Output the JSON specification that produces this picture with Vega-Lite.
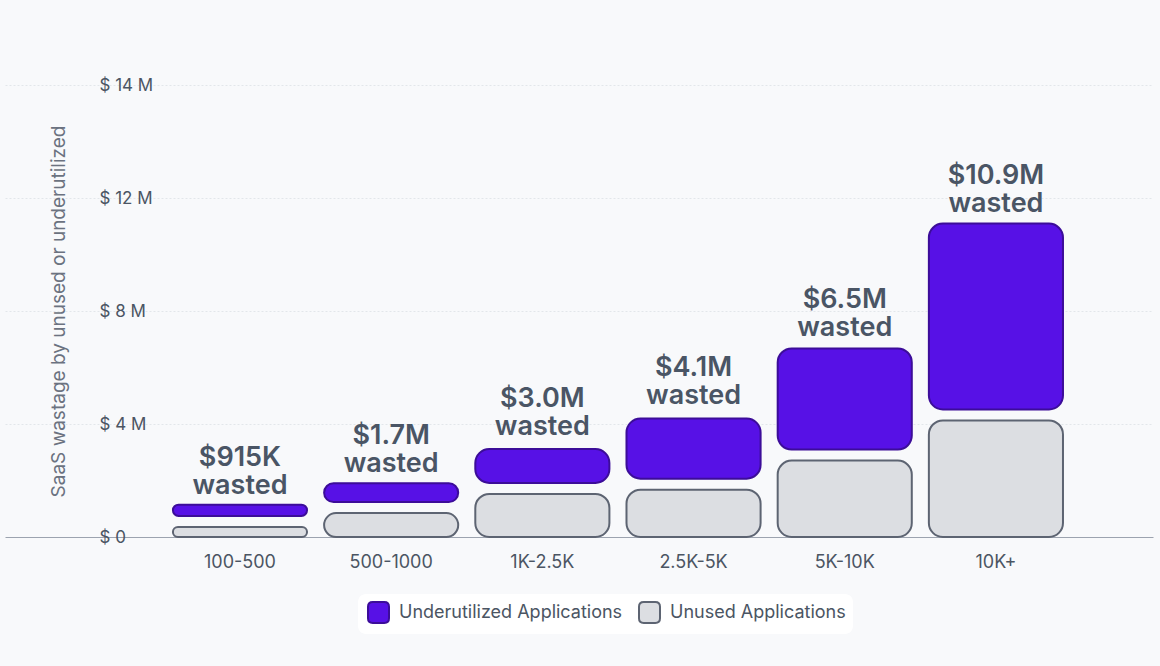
{
  "$schema": "https://vega.github.io/schema/vega-lite/v6.json",
  "description": "SaaS wastage by company size, unused vs underutilized applications.",
  "width": 1148,
  "height": 452,
  "autosize": {"type": "none"},
  "padding": {"left": 5, "top": 85, "right": 7, "bottom": 129},
  "background": "#f8f9fb",
  "datasets": {
    "segments": [
      {"group": "100-500", "segment": "Unused Applications", "value": 0.55},
      {"group": "100-500", "segment": "Underutilized Applications", "value": 0.40},
      {"group": "500-1000", "segment": "Unused Applications", "value": 1.04},
      {"group": "500-1000", "segment": "Underutilized Applications", "value": 0.67},
      {"group": "1K-2.5K", "segment": "Unused Applications", "value": 1.72},
      {"group": "1K-2.5K", "segment": "Underutilized Applications", "value": 1.20},
      {"group": "2.5K-5K", "segment": "Unused Applications", "value": 1.87},
      {"group": "2.5K-5K", "segment": "Underutilized Applications", "value": 2.13},
      {"group": "5K-10K", "segment": "Unused Applications", "value": 2.90},
      {"group": "5K-10K", "segment": "Underutilized Applications", "value": 3.58},
      {"group": "10K+", "segment": "Unused Applications", "value": 4.32},
      {"group": "10K+", "segment": "Underutilized Applications", "value": 6.58}
    ],
    "totals": [
      {"group": "100-500", "total": 0.915, "label": "$915K\nwasted"},
      {"group": "500-1000", "total": 1.7, "label": "$1.7M\nwasted"},
      {"group": "1K-2.5K", "total": 3.0, "label": "$3.0M\nwasted"},
      {"group": "2.5K-5K", "total": 4.1, "label": "$4.1M\nwasted"},
      {"group": "5K-10K", "total": 6.5, "label": "$6.5M\nwasted"},
      {"group": "10K+", "total": 10.9, "label": "$10.9M\nwasted"}
    ]
  },
  "encoding": {
    "x": {
      "field": "group",
      "type": "nominal",
      "sort": ["100-500", "500-1000", "1K-2.5K", "2.5K-5K", "5K-10K", "10K+"],
      "scale": {"paddingInner": 0.113, "paddingOuter": 0.853, "align": 0.651},
      "axis": {
        "title": null,
        "domain": false,
        "ticks": false,
        "tickSize": 0,
        "grid": false,
        "labelAngle": 0,
        "labelPadding": 16,
        "labelFontSize": 18,
        "labelColor": "#4b5563"
      }
    }
  },
  "layer": [
    {
      "data": {"name": "segments"},
      "transform": [
        {"stack": "value", "groupby": ["group"], "sort": [{"field": "segment", "order": "descending"}], "as": ["v0", "v1"]},
        {"filter": "datum.segment === 'Unused Applications'"}
      ],
      "mark": {"type": "bar", "cornerRadius": 14, "strokeWidth": 2, "yOffset": 5.5},
      "encoding": {
        "y": {
          "field": "v1",
          "type": "quantitative",
          "scale": {"domain": [0, 16], "nice": false},
          "axis": {
            "title": "SaaS wastage by unused or underutilized",
            "values": [0, 4, 8, 12, 16],
            "labelExpr": "datum.value === 0 ? '$ 0' : datum.value === 16 ? '$ 14 M' : '$ ' + datum.value + ' M'",
            "domain": false,
            "ticks": false,
            "tickSize": 0,
            "labelAlign": "left",
            "labelBaseline": "middle",
            "labelPadding": -94,
            "labelFontSize": 17,
            "labelColor": "#4b5563",
            "labelFlush": false,
            "labelOverlap": false,
            "grid": true,
            "gridColor": {"condition": {"test": "datum.value === 0", "value": "#9ca3af"}, "value": "#e3e6ea"},
            "gridDash": {"condition": {"test": "datum.value === 0", "value": []}, "value": [2, 2]},
            "gridWidth": {"condition": {"test": "datum.value === 0", "value": 1.2}, "value": 1},
            "titleX": 59,
            "titleY": 226,
            "titleAngle": -90,
            "titleAlign": "center",
            "titleBaseline": "alphabetic",
            "titleFontSize": 19,
            "titleFontWeight": "normal",
            "titleColor": "#6b7280"
          }
        },
        "y2": {"field": "v0"},
        "fill": {
          "field": "segment",
          "type": "nominal",
          "scale": {"domain": ["Underutilized Applications", "Unused Applications"], "range": ["#5711e6", "#dcdee2"]},
          "legend": {"title": null}
        },
        "stroke": {
          "field": "segment",
          "type": "nominal",
          "scale": {"domain": ["Underutilized Applications", "Unused Applications"], "range": ["#3c0d99", "#5d6472"]},
          "legend": {"title": null}
        }
      }
    },
    {
      "data": {"name": "segments"},
      "transform": [
        {"stack": "value", "groupby": ["group"], "sort": [{"field": "segment", "order": "descending"}], "as": ["v0", "v1"]},
        {"filter": "datum.segment === 'Underutilized Applications'"}
      ],
      "mark": {"type": "bar", "cornerRadius": 14, "strokeWidth": 2, "yOffset": -5.5, "y2Offset": -5.5},
      "encoding": {
        "y": {"field": "v1", "type": "quantitative"},
        "y2": {"field": "v0"},
        "fill": {"field": "segment", "type": "nominal", "legend": {"title": null}},
        "stroke": {"field": "segment", "type": "nominal", "legend": {"title": null}}
      }
    },
    {
      "data": {"name": "totals"},
      "mark": {
        "type": "text",
        "lineBreak": "\n",
        "baseline": "bottom",
        "align": "center",
        "dy": -39,
        "fontSize": 27,
        "lineHeight": 28,
        "fontWeight": 600,
        "color": "#4a5565"
      },
      "encoding": {
        "y": {"field": "total", "type": "quantitative"},
        "text": {"field": "label", "type": "nominal"}
      }
    }
  ],
  "config": {
    "font": "Inter",
    "view": {"stroke": null},
    "legend": {
      "orient": "none",
      "legendX": 353,
      "legendY": 509,
      "direction": "horizontal",
      "fillColor": "#ffffff",
      "cornerRadius": 8,
      "padding": 7,
      "symbolType": "M-1,-0.55Q-1,-1,-0.55,-1L0.55,-1Q1,-1,1,-0.55L1,0.55Q1,1,0.55,1L-0.55,1Q-1,1,-1,0.55Z",
      "symbolSize": 441,
      "symbolStrokeWidth": 2,
      "symbolOffset": 2,
      "labelFontSize": 18,
      "labelColor": "#4b5563",
      "labelOffset": 9,
      "columnPadding": 12,
      "labelLimit": 400
    }
  }
}
